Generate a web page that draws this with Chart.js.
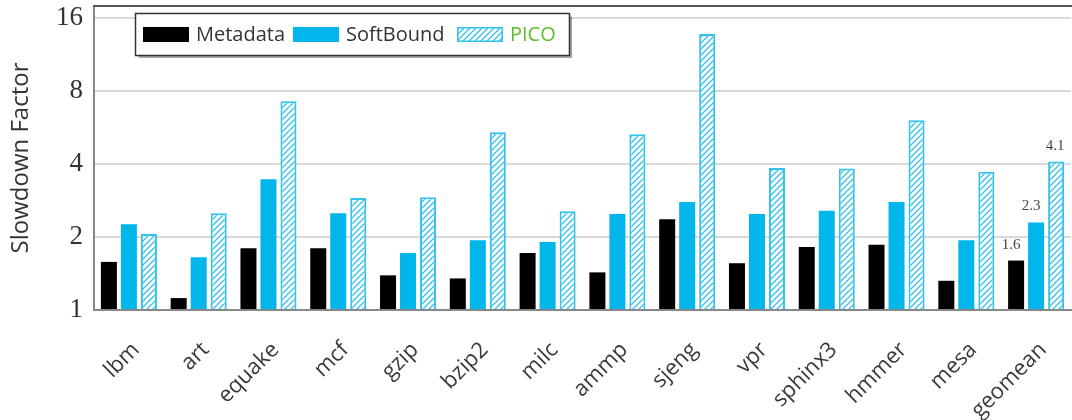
<!DOCTYPE html>
<html>
<head>
<meta charset="utf-8">
<script src="https://cdn.jsdelivr.net/npm/chart.js@4.4.1/dist/chart.umd.min.js"></script>
<style>
html,body{margin:0;padding:0;background:#fff;}
#wrap{width:1072px;height:420px;position:relative;}
</style>
</head>
<body>
<div id="wrap"><canvas id="c" width="1072" height="420"></canvas></div>
<script>
const categories = ['lbm','art','equake','mcf','gzip','bzip2','milc','ammp','sjeng','vpr','sphinx3','hmmer','mesa','geomean'];
const metadata  = [1.58,1.12,1.80,1.80,1.39,1.35,1.72,1.43,2.37,1.56,1.82,1.86,1.32,1.6];
const softbound = [2.26,1.65,3.47,2.51,1.72,1.94,1.91,2.49,2.79,2.49,2.57,2.79,1.94,2.3];
const pico      = [2.06,2.51,7.28,2.90,2.92,5.42,2.56,5.32,13.8,3.86,3.84,6.07,3.72,4.1];
const yTicks = [1,2,4,8,16];
const seriesNames = ['Metadata','SoftBound','PICO'];
const geomeanLabels = ['1.6','2.3','4.1'];

const CYAN = '#00b6ea';
const CYAN_LINE = '#33c1ee';

function makeHatch(ctx){
  const c = document.createElement('canvas');
  c.width = 6; c.height = 6;
  const x = c.getContext('2d');
  x.fillStyle = '#ffffff';
  x.fillRect(0,0,6,6);
  x.strokeStyle = CYAN_LINE;
  x.lineWidth = 1.3;
  x.beginPath();
  x.moveTo(0,6); x.lineTo(6,0);
  x.moveTo(-3,3); x.lineTo(3,-3);
  x.moveTo(3,9); x.lineTo(9,3);
  x.stroke();
  return ctx.createPattern(c,'repeat');
}

const canvas = document.getElementById('c');
const ctx0 = canvas.getContext('2d');
const hatch = makeHatch(ctx0);

const decorPlugin = {
  id:'decor',
  afterDraw(chart){
    const ctx = chart.ctx;
    const a = chart.chartArea;
    ctx.save();
    // top frame line
    ctx.strokeStyle = '#555';
    ctx.lineWidth = 2;
    ctx.beginPath();
    ctx.moveTo(a.left-1, a.top);
    ctx.lineTo(chart.width, a.top);
    ctx.stroke();

    // legend
    ctx.shadowColor = 'rgba(0,0,0,0.35)';
    ctx.shadowOffsetX = 1.5; ctx.shadowOffsetY = 1.5; ctx.shadowBlur = 1;
    ctx.fillStyle = '#fff';
    ctx.fillRect(135, 13, 435, 43);
    ctx.shadowColor = 'transparent';
    ctx.strokeStyle = '#333';
    ctx.lineWidth = 1.5;
    ctx.strokeRect(135.5, 13.5, 434, 42);

    const items = [
      {x:143, fill:'#000', stroke:null, textColor:'#333'},
      {x:293, fill:CYAN, stroke:null, textColor:'#333'},
      {x:457, fill:hatch, stroke:CYAN_LINE, textColor:'#5bbd2b'}
    ];
    ctx.font = '20px "Open Sans"';
    ctx.textBaseline = 'middle';
    ctx.textAlign = 'left';
    items.forEach((it,i)=>{
      ctx.fillStyle = it.fill;
      ctx.fillRect(it.x, 27, 46, 15);
      if(it.stroke){
        ctx.strokeStyle = it.stroke; ctx.lineWidth = 1.5;
        ctx.strokeRect(it.x+0.75, 27.75, 44.5, 13.5);
      }
      ctx.fillStyle = it.textColor;
      ctx.fillText(seriesNames[i], it.x+53, 35);
    });

    // geomean value labels
    ctx.font = '15px "Liberation Serif"';
    ctx.fillStyle = '#444';
    ctx.textAlign = 'center';
    ctx.textBaseline = 'middle';
    const gi = categories.length-1;
    [0,1,2].forEach(d=>{
      const bar = chart.getDatasetMeta(d).data[gi];
      const off = d<2 ? -5 : -1;
      ctx.fillText(geomeanLabels[d], bar.x+off, bar.y-16);
    });
    ctx.restore();
  }
};

new Chart(canvas, {
  type:'bar',
  data:{
    labels: categories,
    datasets:[
      {label:seriesNames[0], data:metadata, backgroundColor:'#000', borderWidth:0, base:1},
      {label:seriesNames[1], data:softbound, backgroundColor:CYAN, borderWidth:0, base:1},
      {label:seriesNames[2], data:pico, backgroundColor:hatch, borderColor:CYAN_LINE, borderWidth:2, base:1}
    ]
  },
  options:{
    responsive:false,
    animation:false,
    devicePixelRatio:1,
    layout:{padding:{top:6,right:1,left:0,bottom:0}},
    plugins:{legend:{display:false}, tooltip:{enabled:false}},
    datasets:{bar:{categoryPercentage:0.86, barPercentage:0.8}},
    scales:{
      x:{
        grid:{display:false},
        border:{display:true, color:'#888', width:2},
        ticks:{
          minRotation:45, maxRotation:45, autoSkip:false,
          color:'#3a3a3a', font:{family:'"Open Sans"', size:22}, padding:19, labelOffset:7
        },
        afterFit(s){ s.height = 110; s.paddingLeft = 0; s.paddingRight = 0; }
      },
      y:{
        type:'logarithmic',
        min:1, max:18,
        grid:{color:'#d9d9d9', lineWidth:2, drawTicks:false},
        border:{display:true, color:'#888', width:2},
        ticks:{
          color:'#333', font:{family:'"Liberation Serif"', size:27}, padding:11,
          callback:(v)=>String(v)
        },
        afterBuildTicks(s){ s.ticks = yTicks.map(v=>({value:v})); },
        afterFit(s){ s.width = 94; s.paddingTop = 0; s.paddingBottom = 0; },
        title:{display:true, text:'Slowdown Factor', color:'#333',
          font:{family:'"Open Sans"', size:24}, padding:{top:7,bottom:0}}
      }
    }
  },
  plugins:[decorPlugin]
});
</script>
</body>
</html>
